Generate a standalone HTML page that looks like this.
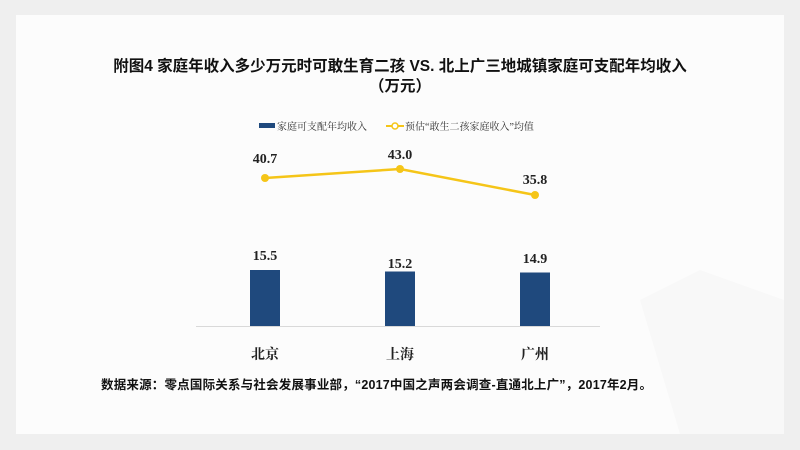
<!DOCTYPE html>
<html><head><meta charset="utf-8"><style>
html,body{margin:0;padding:0;width:800px;height:450px;overflow:hidden;background:#efefef}
</style></head><body>
<svg width="800" height="450" xmlns="http://www.w3.org/2000/svg" style="position:absolute;left:0;top:0">
<rect x="0" y="0" width="800" height="450" fill="#efefef"/>
<rect x="16" y="15" width="768" height="419" fill="#fcfcfc"/>
<polygon points="640,300 700,270 784,300 784,434 680,434" fill="#f8f8f8"/>
<g font-family="Liberation Sans,Noto Sans CJK SC,sans-serif" font-weight="bold" fill="#111" text-anchor="middle">
<text x="400" y="71" font-size="15.5">附图4 家庭年收入多少万元时可敢生育二孩 VS. 北上广三地城镇家庭可支配年均收入</text>
<text x="400" y="91" font-size="15.5">（万元）</text>
</g>
<g font-family="Liberation Serif,Noto Serif CJK SC,serif" font-size="10" fill="#333">
<rect x="259" y="123" width="16" height="5" fill="#1f497d"/>
<text x="277" y="130">家庭可支配年均收入</text>
<line x1="386" y1="126" x2="404" y2="126" stroke="#f5c518" stroke-width="2"/>
<circle cx="395" cy="126" r="3" fill="#fff" stroke="#f5c518" stroke-width="1.5"/>
<text x="405" y="130">预估“敢生二孩家庭收入”均值</text>
</g>
<line x1="196" y1="326.5" x2="600" y2="326.5" stroke="#d9d9d9" stroke-width="1"/>
<g fill="#1f497d">
<rect x="250" y="270" width="30" height="56"/>
<rect x="385" y="271.5" width="30" height="54.5"/>
<rect x="520" y="272.5" width="30" height="53.5"/>
</g>
<polyline points="265,178 400,169 535,195" fill="none" stroke="#f5c518" stroke-width="2.5"/>
<g fill="#f5c518"><circle cx="265" cy="178" r="4"/><circle cx="400" cy="169" r="4"/><circle cx="535" cy="195" r="4"/></g>
<g font-family="Liberation Serif,serif" font-size="14" font-weight="bold" fill="#222" text-anchor="middle">
<text x="265" y="163">40.7</text>
<text x="400" y="159">43.0</text>
<text x="535" y="184">35.8</text>
<text x="265" y="260">15.5</text>
<text x="400" y="268">15.2</text>
<text x="535" y="263">14.9</text>
</g>
<g font-family="Liberation Serif,Noto Serif CJK SC,serif" font-size="14" font-weight="bold" fill="#222" text-anchor="middle">
<text x="265" y="359">北京</text>
<text x="400" y="359">上海</text>
<text x="535" y="359">广州</text>
</g>
<text x="101" y="389" font-family="Liberation Sans,Noto Sans CJK SC,sans-serif" font-size="12.5" font-weight="bold" fill="#111" textLength="551" lengthAdjust="spacing">数据来源：零点国际关系与社会发展事业部，“2017中国之声两会调查-直通北上广”，2017年2月。</text>
</svg>
</body></html>
